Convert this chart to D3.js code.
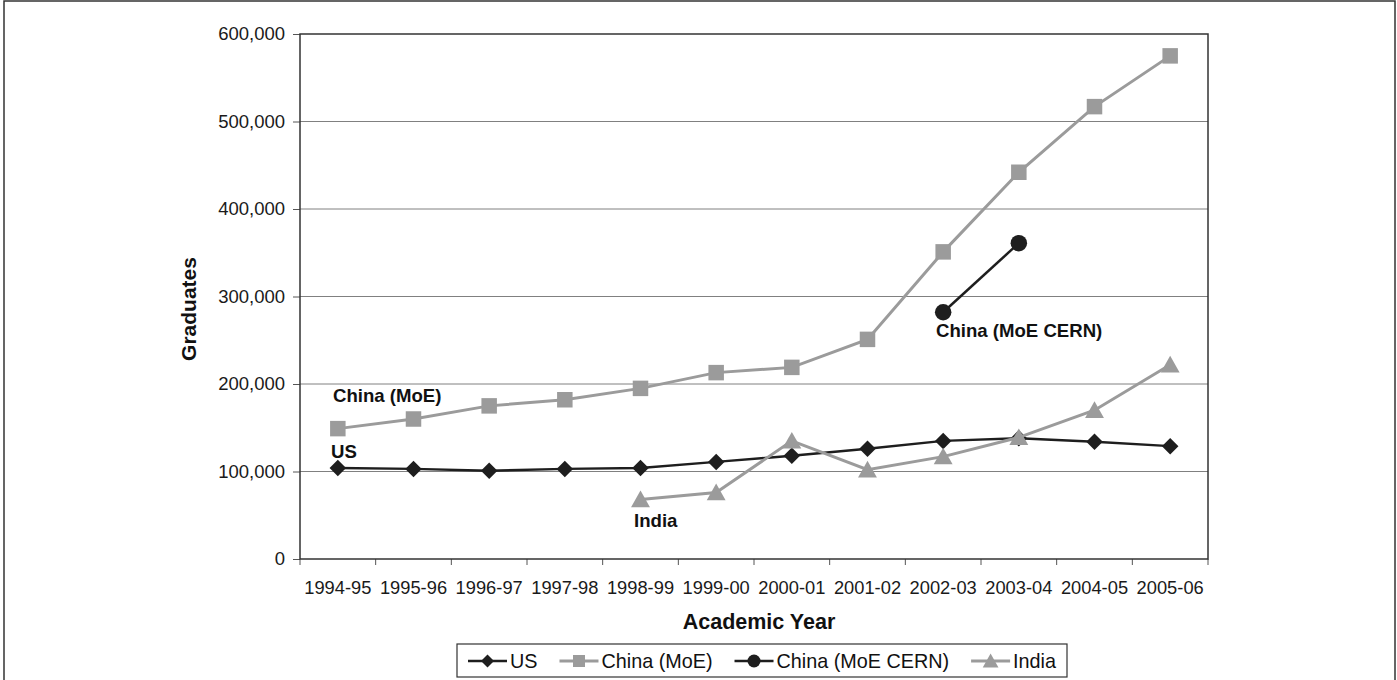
<!DOCTYPE html>
<html><head><meta charset="utf-8">
<script src="https://cdn.jsdelivr.net/npm/d3@7"></script>
<style>body{margin:0;background:#fff}svg{display:block}text{font-family:"Liberation Sans",Arial,sans-serif}</style>
</head><body><svg id="c" width="1397" height="680"></svg>
<script>
const years = ["1994-95","1995-96","1996-97","1997-98","1998-99","1999-00","2000-01","2001-02","2002-03","2003-04","2004-05","2005-06"];
const usValues = [104000,103000,101000,103000,104000,111000,118000,126000,135000,138000,134000,129000];
const chinaMoE = [149000,160000,175000,182000,195000,213000,219000,251000,351000,442000,517000,575000];
const chinaCERN = [null,null,null,null,null,null,null,null,282000,361000,null,null];
const indiaValues = [null,null,null,null,68000,76000,135000,102000,117000,139000,170000,222000];
const yTicks = [0,100000,200000,300000,400000,500000,600000];

const GRAY = "#9b9b9b", BLACK = "#1e1e1e";
const series = [
  {name:"US", values:usValues, color:BLACK, marker:"diamond", width:2.5, label:"US", lx:331, ly:458},
  {name:"China (MoE)", values:chinaMoE, color:GRAY, marker:"square", width:3, label:"China (MoE)", lx:333, ly:402},
  {name:"China (MoE CERN)", values:chinaCERN, color:BLACK, marker:"circle", width:2.5, label:"China (MoE CERN)", lx:936, ly:337},
  {name:"India", values:indiaValues, color:GRAY, marker:"triangle", width:3, label:"India", lx:634, ly:527}
];

const svg = d3.select("#c");
const m = {l:300, t:34, r:1208, b:559};
const x = d3.scaleBand().domain(years).range([m.l, m.r]);
const y = d3.scaleLinear().domain([0,600000]).range([m.b, m.t]);

// outer border
svg.append("rect").attr("x",4).attr("y",1).attr("width",1391).attr("height",700)
  .attr("fill","none").attr("stroke","#333").attr("stroke-width",1.5);

// gridlines
svg.append("g").selectAll("line").data(yTicks.filter(d=>d>0 && d<600000)).join("line")
  .attr("x1",m.l).attr("x2",m.r).attr("y1",d=>y(d)).attr("y2",d=>y(d))
  .attr("stroke","#808080").attr("stroke-width",1);

// axes
const yAxis = d3.axisLeft(y).tickValues(yTicks).tickSize(7).tickPadding(8).tickFormat(d3.format(","));
const gy = svg.append("g").attr("transform",`translate(${m.l},0)`).call(yAxis);
gy.select(".domain").remove();
gy.selectAll("line").attr("stroke","#555");
gy.selectAll("text").attr("font-size",18.5).attr("fill","#1a1a1a").attr("font-family","Liberation Sans, Arial");

const xAxis = d3.axisBottom(x).tickSize(0).tickPadding(22);
const gx = svg.append("g").attr("transform",`translate(0,${m.b})`).call(xAxis);
gx.select(".domain").remove();
gx.selectAll("text").attr("font-size",18.3).attr("fill","#1a1a1a").attr("font-family","Liberation Sans, Arial");
// category boundary ticks
svg.append("g").selectAll("line").data(years.map(d=>x(d)).concat([m.r])).join("line")
  .attr("x1",d=>d).attr("x2",d=>d).attr("y1",m.b).attr("y2",m.b+6).attr("stroke","#555");

// plot frame
svg.append("rect").attr("x",m.l).attr("y",m.t).attr("width",m.r-m.l).attr("height",m.b-m.t)
  .attr("fill","none").attr("stroke","#333").attr("stroke-width",1.5);

function markerPath(type, s){
  if(type==="square") return d3.symbol().type(d3.symbolSquare).size(s*s)();
  if(type==="circle") return d3.symbol().type(d3.symbolCircle).size(Math.PI*(s/2)*(s/2))();
  if(type==="diamond"){const h=s/2; return `M0,${-h}L${h},0L0,${h}L${-h},0Z`;}
  if(type==="triangle"){const h=s/2; return `M0,${-h}L${h*1.05},${h*0.85}L${-h*1.05},${h*0.85}Z`;}
}
const cx = d=>x(d)+x.bandwidth()/2;

const line = d3.line().defined(d=>d.v!=null).x(d=>cx(d.year)).y(d=>y(d.v));
series.forEach(s=>{
  const pts = years.map((yr,i)=>({year:yr, v:s.values[i]}));
  svg.append("path").datum(pts).attr("d",line).attr("fill","none")
    .attr("stroke",s.color).attr("stroke-width",s.width);
  const size = {square:15.5, circle:16.5, diamond:16.5, triangle:18}[s.marker];
  svg.append("g").selectAll("path").data(pts.filter(d=>d.v!=null)).join("path")
    .attr("d",markerPath(s.marker,size))
    .attr("transform",d=>`translate(${cx(d.year)},${y(d.v)})`)
    .attr("fill",s.color);
  svg.append("text").attr("x",s.lx).attr("y",s.ly).attr("font-size",18.6).attr("font-weight","bold")
    .attr("fill","#111").text(s.label);
});

// axis titles
svg.append("text").attr("x",(m.l+m.r)/2+5).attr("y",629).attr("text-anchor","middle")
  .attr("font-size",21.5).attr("font-weight","bold").attr("fill","#111").text("Academic Year");
svg.append("text").attr("transform","translate(196,309) rotate(-90)").attr("text-anchor","middle")
  .attr("font-size",21).attr("font-weight","bold").attr("fill","#111").text("Graduates");

// legend
const lg = svg.append("g");
const lgBox = lg.append("rect").attr("fill","#fff").attr("stroke","#333").attr("stroke-width",1.2);
let cur = 468;
const lgY = 661;
series.forEach(s=>{
  lg.append("line").attr("x1",cur).attr("x2",cur+39).attr("y1",lgY).attr("y2",lgY)
    .attr("stroke",s.color).attr("stroke-width",s.width);
  const size = {square:12, circle:13, diamond:13, triangle:15}[s.marker];
  lg.append("path").attr("d",markerPath(s.marker,size)).attr("transform",`translate(${cur+19.5},${lgY})`).attr("fill",s.color);
  const t = lg.append("text").attr("x",cur+42).attr("y",lgY+7).attr("font-size",19.8).attr("fill","#111").text(s.name);
  cur += 42 + t.node().getComputedTextLength() + 22;
});
lgBox.attr("x",457).attr("y",644).attr("width",cur-22+11-457).attr("height",33);
</script></body></html>
